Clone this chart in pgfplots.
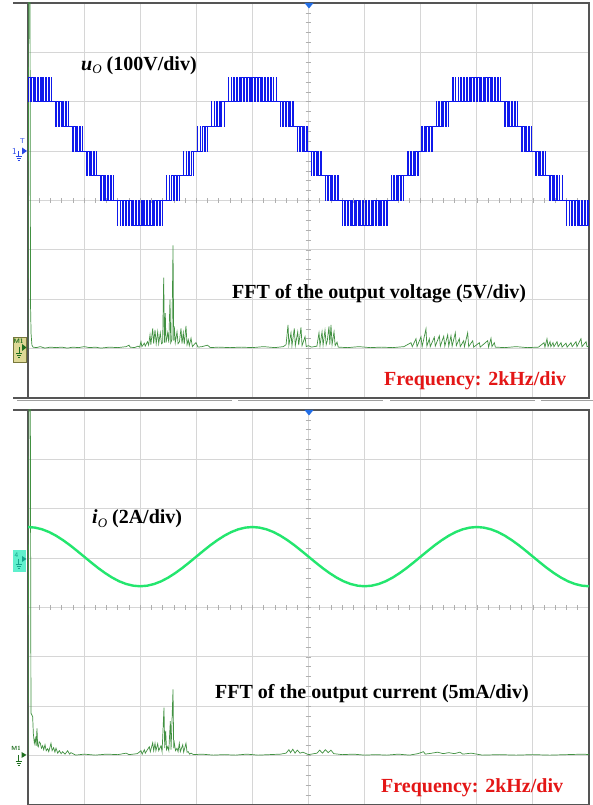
\documentclass[border=0pt]{standalone}
\usepackage{pgfplots}
\pgfplotsset{compat=1.18}
\usepackage{pgfplotstable}
\usepackage{fontspec}
\setmainfont{Liberation Serif}
\definecolor{gridc}{RGB}{214,214,214}
\definecolor{framec}{RGB}{85,85,85}
\definecolor{tickc}{RGB}{175,175,175}
\definecolor{wave}{RGB}{15,25,235}
\definecolor{fftc}{RGB}{65,145,65}
\definecolor{cur}{RGB}{35,230,110}
\definecolor{redt}{RGB}{228,22,22}
\definecolor{chblue}{RGB}{40,70,230}
\definecolor{trigblue}{RGB}{35,110,230}
\definecolor{khaki}{RGB}{222,216,150}
\definecolor{olivec}{RGB}{120,120,60}
\definecolor{dkgreen}{RGB}{30,110,30}
\definecolor{aqua}{RGB}{95,240,205}
\definecolor{teal2}{RGB}{20,165,140}
\definecolor{tabc}{RGB}{160,160,160}

% PWM staircase, half period (levels -3..3, 50 V each)
\pgfplotstableread{
x l
0.000 2
0.010 3
0.040 2
0.060 3
0.090 2
0.111 3
0.139 2
0.162 3
0.188 2
0.214 3
0.236 2
0.266 3
0.284 2
0.318 3
0.332 2
0.371 3
0.379 2
0.424 3
0.426 2
0.452 2
0.498 1
0.506 2
0.544 1
0.560 2
0.590 1
0.614 2
0.636 1
0.668 2
0.682 1
0.723 2
0.727 1
0.752 1
0.798 0
0.807 1
0.843 0
0.862 1
0.888 0
0.917 1
0.933 0
0.972 1
0.978 0
1.003 0
1.047 -1
1.058 0
1.092 -1
1.113 0
1.137 -1
1.168 0
1.182 -1
1.222 0
1.228 -1
1.252 -1
1.298 -2
1.307 -1
1.343 -2
1.361 -1
1.389 -2
1.415 -1
1.435 -2
1.469 -1
1.481 -2
1.523 -1
1.527 -2
1.551 -2
1.599 -3
1.604 -2
1.646 -3
1.657 -2
1.693 -3
1.709 -2
1.741 -3
1.761 -2
1.789 -3
1.813 -2
1.838 -3
1.864 -2
1.886 -3
1.915 -2
1.935 -3
1.965 -2
1.985 -3
2.000 -3
}\pwm

% FFT of output voltage (div)
\pgfplotstableread{
x y
0.000 -3.00
0.015 5
0.035 5
0.045 -2.12
0.055 -2.70
0.070 -2.93
0.090 -2.97
0.15 -2.98
0.22 -2.96
0.30 -2.99
0.40 -2.97
0.50 -2.98
0.60 -2.97
0.70 -2.99
0.80 -2.97
0.90 -2.98
1.00 -2.96
1.10 -2.98
1.20 -2.97
1.30 -2.99
1.45 -2.97
1.60 -2.98
1.75 -2.96
1.80 -2.93
1.82 -2.97
1.90 -2.98
1.96 -2.95
1.99 -2.97
2.014 -2.86
2.03 -2.96
2.073 -2.89
2.09 -2.95
2.13 -2.86
2.15 -2.93
2.175 -2.72
2.19 -2.92
2.223 -2.59
2.24 -2.90
2.264 -2.62
2.285 -2.90
2.312 -2.66
2.33 -2.90
2.358 -2.68
2.38 -2.90
2.40 -2.88
2.419 -1.56
2.432 -2.88
2.447 -2.28
2.46 -2.88
2.490 -2.68
2.51 -2.88
2.531 -2.01
2.545 -2.88
2.565 -2.82
2.585 -0.91
2.597 -2.84
2.608 -2.55
2.625 -2.88
2.656 -2.66
2.675 -2.90
2.70 -2.86
2.727 -2.59
2.745 -2.90
2.768 -2.68
2.785 -2.91
2.816 -2.54
2.835 -2.92
2.857 -2.82
2.875 -2.94
2.906 -2.79
2.93 -2.96
2.96 -2.92
2.995 -2.88
3.03 -2.97
3.10 -2.96
3.20 -2.93
3.25 -2.98
3.40 -2.97
3.60 -2.98
3.80 -2.97
4.00 -2.98
4.20 -2.96
4.40 -2.98
4.55 -2.96
4.60 -2.92
4.635 -2.52
4.65 -2.93
4.688 -2.68
4.705 -2.94
4.747 -2.59
4.765 -2.94
4.808 -2.66
4.825 -2.93
4.866 -2.57
4.885 -2.94
4.938 -2.76
4.96 -2.96
5.00 -2.94
5.05 -2.97
5.10 -2.96
5.15 -2.95
5.187 -2.68
5.205 -2.94
5.241 -2.66
5.26 -2.93
5.294 -2.63
5.315 -2.92
5.335 -2.84
5.365 -2.55
5.38 -2.92
5.401 -2.52
5.42 -2.92
5.455 -2.66
5.475 -2.94
5.508 -2.87
5.53 -2.97
5.70 -2.98
5.90 -2.96
6.10 -2.98
6.30 -2.97
6.50 -2.98
6.70 -2.96
6.827 -2.88
6.85 -2.96
6.916 -2.80
6.935 -2.96
7.005 -2.76
7.025 -2.96
7.094 -2.60
7.11 -2.95
7.153 -2.80
7.17 -2.96
7.242 -2.77
7.26 -2.95
7.332 -2.74
7.35 -2.95
7.41 -2.75
7.43 -2.95
7.481 -2.72
7.50 -2.95
7.54 -2.74
7.56 -2.95
7.617 -2.68
7.635 -2.94
7.688 -2.80
7.705 -2.96
7.766 -2.84
7.78 -2.96
7.837 -2.68
7.855 -2.96
7.927 -2.84
7.945 -2.97
8.045 -2.88
8.06 -2.97
8.194 -2.84
8.21 -2.97
8.253 -2.79
8.27 -2.96
8.312 -2.88
8.33 -2.97
8.50 -2.98
8.70 -2.96
8.90 -2.98
9.10 -2.97
9.198 -2.88
9.215 -2.97
9.251 -2.80
9.27 -2.96
9.305 -2.86
9.32 -2.96
9.358 -2.88
9.375 -2.96
9.43 -2.86
9.45 -2.96
9.501 -2.88
9.52 -2.97
9.59 -2.89
9.61 -2.97
9.679 -2.88
9.70 -2.96
9.768 -2.86
9.785 -2.96
9.857 -2.80
9.875 -2.96
9.947 -2.86
9.965 -2.96
10.0 -2.95
}\fftv

% FFT of output current (div)
\pgfplotstableread{
x y
0.000 -3.0
0.020 5
0.040 5
0.053 -2.14
0.083 -2.21
0.095 -2.55
0.113 -2.75
0.131 -2.65
0.145 -2.80
0.160 -2.45
0.172 -2.80
0.184 -2.82
0.20 -2.72
0.220 -2.75
0.24 -2.85
0.261 -2.80
0.28 -2.88
0.303 -2.78
0.325 -2.90
0.351 -2.86
0.37 -2.92
0.410 -2.75
0.43 -2.90
0.457 -2.84
0.48 -2.93
0.499 -2.85
0.53 -2.95
0.559 -2.90
0.59 -2.96
0.618 -2.92
0.66 -2.97
0.707 -2.90
0.74 -2.97
0.766 -2.94
0.85 -2.99
1.00 -2.97
1.20 -2.99
1.40 -2.97
1.60 -2.98
1.75 -2.95
1.80 -2.98
1.95 -2.96
2.014 -2.90
2.035 -2.97
2.073 -2.88
2.09 -2.95
2.162 -2.82
2.18 -2.92
2.223 -2.74
2.24 -2.90
2.264 -2.75
2.28 -2.90
2.312 -2.76
2.33 -2.90
2.371 -2.80
2.39 -2.92
2.424 -2.03
2.437 -2.85
2.454 -2.50
2.47 -2.88
2.490 -2.82
2.51 -2.90
2.537 -2.30
2.55 -2.88
2.585 -1.66
2.597 -2.85
2.608 -2.74
2.63 -2.90
2.656 -2.85
2.675 -2.92
2.697 -2.75
2.715 -2.92
2.758 -2.78
2.775 -2.93
2.816 -2.75
2.835 -2.93
2.857 -2.92
2.88 -2.97
2.906 -2.95
2.95 -2.98
3.10 -2.97
3.30 -2.99
3.50 -2.98
3.70 -2.99
3.90 -2.97
4.10 -2.99
4.30 -2.98
4.50 -2.97
4.60 -2.95
4.65 -2.88
4.68 -2.94
4.72 -2.87
4.76 -2.95
4.80 -2.89
4.85 -2.95
4.90 -2.93
5.00 -2.98
5.15 -2.95
5.20 -2.89
5.25 -2.95
5.30 -2.88
5.35 -2.94
5.40 -2.89
5.45 -2.96
5.60 -2.98
5.80 -2.97
6.00 -2.99
6.20 -2.98
6.40 -2.99
6.60 -2.97
6.80 -2.99
6.95 -2.96
7.05 -2.92
7.08 -2.97
7.20 -2.95
7.30 -2.93
7.40 -2.96
7.50 -2.94
7.60 -2.96
7.70 -2.93
7.75 -2.97
7.90 -2.95
8.10 -2.99
8.40 -2.98
8.70 -2.99
9.00 -2.98
9.30 -2.99
9.60 -2.98
9.90 -2.97
10.0 -2.98
}\ffti

\pgfplotsset{osc/.style={
  width=561bp, height=395bp, scale only axis,
  xmin=0, xmax=10, ymin=-4, ymax=4,
  xtick={1,...,9}, ytick={-3,...,3},
  xticklabels={}, yticklabels={},
  tick style={draw=none},
  grid=major, major grid style={draw=gridc, line width=0.9bp},
  axis line style={draw=framec, line width=1.3bp},
  anchor=south west,
}}

\newcommand{\crosshair}{%
  \pgfplotsinvokeforeach{-3.8,-3.6,...,3.8}{\draw[tickc, line width=0.6bp] (axis cs:4.95,##1) -- (axis cs:5.05,##1);}
  \pgfplotsinvokeforeach{0.2,0.4,...,9.8}{\draw[tickc, line width=0.6bp] (axis cs:##1,-0.045) -- (axis cs:##1,0.045);}
}

\begin{document}
\begin{tikzpicture}[x=1bp,y=1bp]
\useasboundingbox (0,0) rectangle (593,805);
\fill[white] (0,0) rectangle (593,805);

% ---------------- top panel ----------------
\begin{axis}[osc, at={(28bp,407bp)}]
  \crosshair
  \addplot[fftc, line width=0.7bp, no marks] table[x=x,y=y] {\fftv};
  \addplot[wave, line width=1bp, const plot, no marks] table[x=x, y expr=1+0.5*\thisrow{l}] {\pwm};
  \addplot[wave, line width=1bp, const plot, no marks] table[x expr=4-\thisrow{x}, y expr=1+0.5*\thisrow{l}] {\pwm};
  \addplot[wave, line width=1bp, const plot, no marks] table[x expr=4+\thisrow{x}, y expr=1+0.5*\thisrow{l}] {\pwm};
  \addplot[wave, line width=1bp, const plot, no marks] table[x expr=8-\thisrow{x}, y expr=1+0.5*\thisrow{l}] {\pwm};
  \addplot[wave, line width=1bp, const plot, no marks] table[x expr=8+\thisrow{x}, y expr=1+0.5*\thisrow{l}] {\pwm};
\end{axis}

% ---------------- bottom panel ----------------
\begin{axis}[osc, at={(28bp,0bp)}]
  \crosshair
  \addplot[fftc, line width=0.7bp, no marks] table[x=x,y=y] {\ffti};
  \addplot[cur, line width=2.4bp, no marks] coordinates {
   (0,1.630) (0.125,1.618) (0.25,1.584) (0.375,1.529) (0.5,1.454) (0.625,1.363) (0.75,1.260) (0.875,1.147)
   (1,1.030) (1.125,0.913) (1.25,0.800) (1.375,0.697) (1.5,0.606) (1.625,0.531) (1.75,0.476) (1.875,0.442)
   (2,0.430) (2.125,0.442) (2.25,0.476) (2.375,0.531) (2.5,0.606) (2.625,0.697) (2.75,0.800) (2.875,0.913)
   (3,1.030) (3.125,1.147) (3.25,1.260) (3.375,1.363) (3.5,1.454) (3.625,1.529) (3.75,1.584) (3.875,1.618)
   (4,1.630) (4.125,1.618) (4.25,1.584) (4.375,1.529) (4.5,1.454) (4.625,1.363) (4.75,1.260) (4.875,1.147)
   (5,1.030) (5.125,0.913) (5.25,0.800) (5.375,0.697) (5.5,0.606) (5.625,0.531) (5.75,0.476) (5.875,0.442)
   (6,0.430) (6.125,0.442) (6.25,0.476) (6.375,0.531) (6.5,0.606) (6.625,0.697) (6.75,0.800) (6.875,0.913)
   (7,1.030) (7.125,1.147) (7.25,1.260) (7.375,1.363) (7.5,1.454) (7.625,1.529) (7.75,1.584) (7.875,1.618)
   (8,1.630) (8.125,1.618) (8.25,1.584) (8.375,1.529) (8.5,1.454) (8.625,1.363) (8.75,1.260) (8.875,1.147)
   (9,1.030) (9.125,0.913) (9.25,0.800) (9.375,0.697) (9.5,0.606) (9.625,0.531) (9.75,0.476) (9.875,0.442)
   (10,0.430)};
\end{axis}

% ---------------- frame extras ----------------
\draw[framec, line width=1.3] (13,802) -- (28,802);
\draw[framec, line width=1.3] (13,407) -- (28,407);
\draw[framec, line width=1.3] (13,395) -- (28,395);
\foreach \a/\b in {17/232,238/383,390/535,541/593}{\draw[tabc, line width=1.4] (\a,404.5) -- (\b,404.5);}

% trigger markers
\fill[trigblue] (304.5,802) -- (313.5,802) -- (309,796.5) -- cycle;
\fill[trigblue] (304.5,395) -- (313.5,395) -- (309,389.5) -- cycle;

% channel 1 marker
\node[text=chblue, font=\fontsize{9bp}{9bp}\sffamily, inner sep=0] at (14.5,654) {1};
\node[text=chblue, font=\fontsize{7bp}{7bp}\sffamily, inner sep=0] at (22.5,664) {T};
\fill[chblue] (22,650.5) -- (27,654) -- (22,657.5) -- cycle;
\draw[chblue, line width=0.7] (18.5,654) -- (18.5,649) (15.5,649) -- (21.5,649) (16.5,647) -- (20.5,647) (17.5,645) -- (19.5,645);

% M1 (top)
\filldraw[fill=khaki, draw=olivec, line width=0.6] (13,443) rectangle (26,468);
\node[text=dkgreen, font=\fontsize{6.5bp}{6.5bp}\sffamily\bfseries, inner sep=0] at (18.5,463.5) {M1};
\fill[dkgreen] (22,454) -- (26.5,457.5) -- (22,461) -- cycle;
\draw[dkgreen, line width=0.6] (19,457.5) -- (19,452) (16,452) -- (22,452) (17,450) -- (21,450) (18,448) -- (20,448);

% channel 4 marker (bottom)
\fill[aqua] (13,233) rectangle (26,255);
\node[text=teal2, font=\fontsize{7bp}{7bp}\sffamily, inner sep=0] at (16.5,250) {4};
\fill[teal2] (22,243) -- (26.5,246) -- (22,249) -- cycle;
\draw[teal2, line width=0.6] (18.5,246) -- (18.5,241) (15.5,241) -- (21.5,241) (16.5,239) -- (20.5,239) (17.5,237) -- (19.5,237);

% M1 (bottom)
\node[text=dkgreen, font=\fontsize{6bp}{6bp}\sffamily\bfseries, inner sep=0] at (16,57) {M1};
\fill[dkgreen] (21.5,47) -- (26.5,50) -- (21.5,53) -- cycle;
\draw[dkgreen, line width=0.6] (18.5,50) -- (18.5,44) (15.5,44) -- (21.5,44) (16.5,42) -- (20.5,42) (17.5,40) -- (19.5,40);

% ---------------- texts ----------------
\tikzset{lab/.style={anchor=base west, inner sep=0, font=\bfseries\fontsize{20bp}{24bp}\selectfont}}
\node[lab] at (81,734.3) {\textit{u}\raisebox{-0.35ex}{\mdseries\itshape\fontsize{13bp}{13bp}\selectfont O} (100V/div)};
\node[lab] at (232,506.7) {FFT of the output voltage (5V/div)};
\node[lab, text=redt] at (384,419) {Frequency: 2kHz/div};
\node[lab] at (92,281) {\textit{i}\raisebox{-0.35ex}{\mdseries\itshape\fontsize{13bp}{13bp}\selectfont O} (2A/div)};
\node[lab] at (215,106.7) {FFT of the output current (5mA/div)};
\node[lab, text=redt] at (381,12) {Frequency: 2kHz/div};
\end{tikzpicture}
\end{document}
